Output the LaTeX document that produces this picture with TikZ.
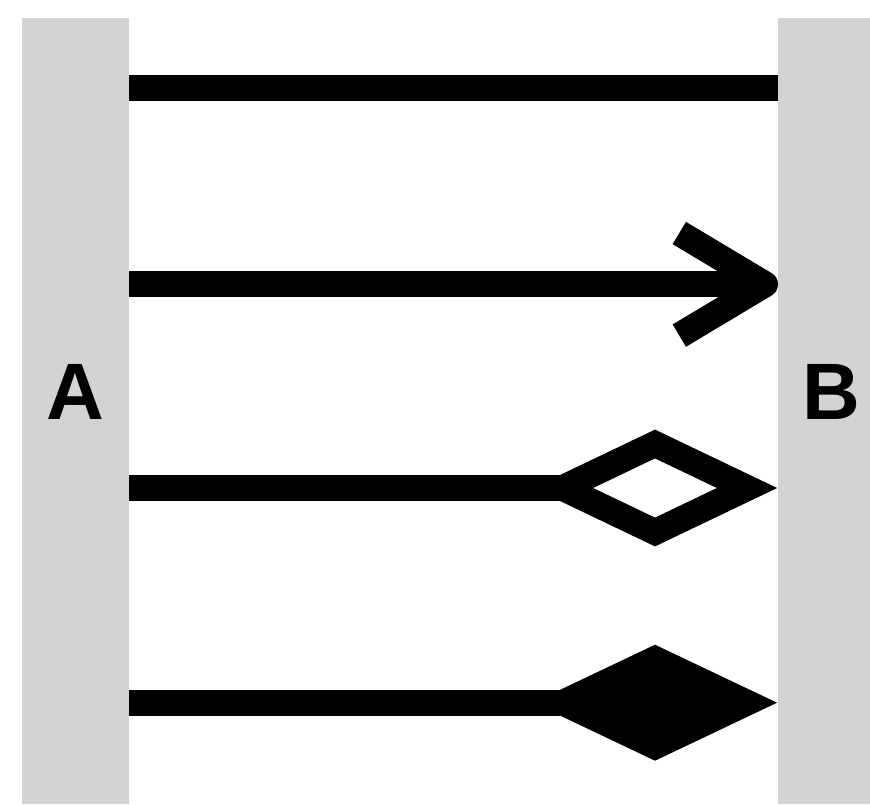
\documentclass[tikz,border=0pt]{standalone}
\usepackage{fontspec}
\setmainfont{Liberation Sans}
\begin{document}
\begin{tikzpicture}[x=1pt, y=-1pt,
  bar/.style={fill={rgb,255:red,211;green,211;blue,211}, draw=none},
  lbl/.style={font=\fontsize{80}{80}\selectfont\bfseries, inner sep=0pt, anchor=base},
  link/.style={line width=26pt, line cap=butt, draw=black}]
  \useasboundingbox (0,0) rectangle (870,804);
  % the two lifelines
  \fill[bar] (22,18) rectangle (129,804);
  \fill[bar] (778,18) rectangle (885,804);
  \node[lbl] (A) at (75.5,419) {A};
  \node[lbl] (B) at (831.5,419) {B};
  % end points of the connectors
  \coordinate (a1) at (129,88.3);   \coordinate (b1) at (778,88.3);
  \coordinate (a2) at (129,284.3);  \coordinate (b2) at (765,284.3);
  \coordinate (a3) at (129,488);    \coordinate (b3) at (563,488);
  \coordinate (a4) at (129,702.7);  \coordinate (b4) at (600,702.7);
  % plain association
  \draw[link] (a1) -- (b1);
  % open arrow
  \draw[link] (a2) -- (b2);
  \draw[link, line join=round] (679.3,233) -- (b2) -- (679.3,335.6);
  % hollow diamond
  \draw[link] (a3) -- (b3);
  \draw[link, line join=miter] (b3) -- (655,444) -- (747,488) -- (655,532) -- cycle;
  % filled diamond
  \draw[link] (a4) -- (b4);
  \fill[black] (533,702.7) -- (655,644.7) -- (777,702.7) -- (655,760.7) -- cycle;
\end{tikzpicture}
\end{document}
